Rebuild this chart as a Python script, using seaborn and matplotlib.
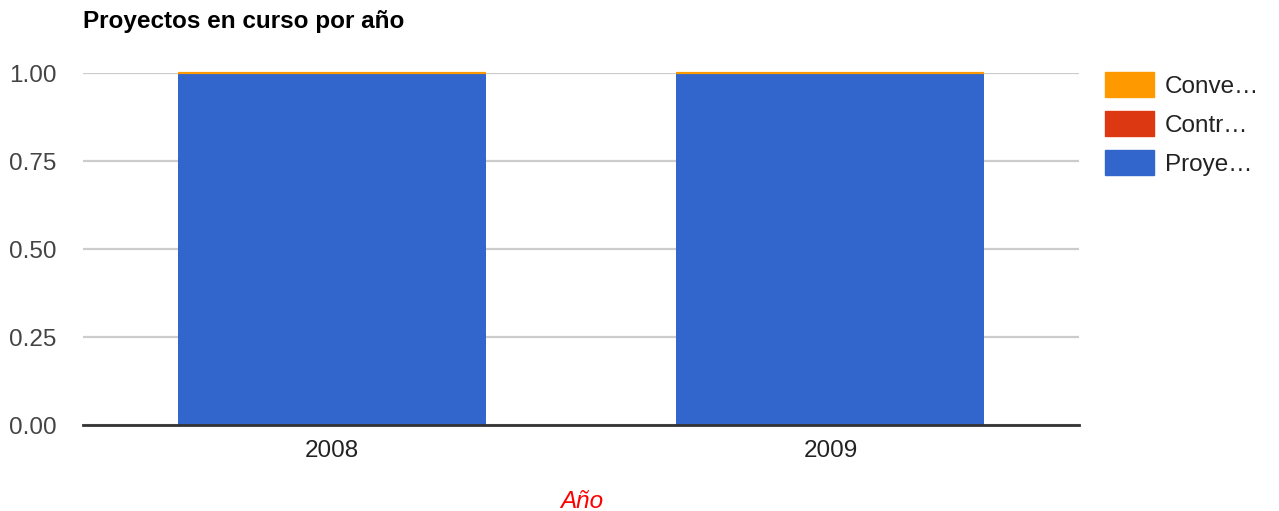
import matplotlib
matplotlib.use("Agg")
import matplotlib.pyplot as plt
import matplotlib.patches as mpatches
import seaborn as sns
import pandas as pd

years = ["2008", "2009"]
proyectos = [1.0, 1.0]
contratos = [0.0, 0.0]
convenios = [0.0, 0.0]
series_labels = ["Conve…", "Contr…", "Proye…"]
colors = {"Proye…": "#3366cc", "Contr…": "#dc3912", "Conve…": "#ff9900"}

sns.set_theme(style="white")
plt.rcParams["font.family"] = ["Liberation Sans", "DejaVu Sans"]

fig = plt.figure(figsize=(12.79, 5.11), dpi=100)
ax = fig.add_axes([0.065, 0.168, 0.779, 0.689])

df = pd.DataFrame({"year": years, "p": proyectos, "c": contratos, "v": convenios})
sns.barplot(data=df, x="year", y="p", color=colors["Proye…"], width=0.618,
            saturation=1, ax=ax, linewidth=0, zorder=3)
sns.barplot(data=df, x="year", y="c", color=colors["Contr…"], width=0.618,
            saturation=1, ax=ax, bottom=df["p"], linewidth=0, zorder=3)
sns.barplot(data=df, x="year", y="v", color=colors["Conve…"], width=0.618,
            saturation=1, ax=ax, bottom=df["p"] + df["c"], zorder=4,
            edgecolor=colors["Conve…"], linewidth=1.6)
# zero-height top segment shows as a thin line at the bar top
for bar in ax.containers[-1]:
    bar.set_clip_on(False)

ax.set_xlim(-0.5, 1.5)
ax.set_ylim(0, 1.0)
ax.set_yticks([0, 0.25, 0.5, 0.75, 1.0])
ax.set_yticklabels(["0.00", "0.25", "0.50", "0.75", "1.00"])
ax.yaxis.grid(True, color="#cccccc", linewidth=1.6, zorder=0)
ax.set_axisbelow(True)
for s in ["top", "right", "left"]:
    ax.spines[s].set_visible(False)
ax.spines["bottom"].set_color("#333333")
ax.spines["bottom"].set_linewidth(2)
ax.spines["bottom"].set_zorder(5)
ax.tick_params(axis="both", length=0, labelsize=17.5)
ax.tick_params(axis="y", pad=19, colors="#444444")
ax.tick_params(axis="x", pad=11, colors="#222222")
ax.set_ylabel("")
ax.set_xlabel("Año", color="red", style="italic", fontsize=17.5, labelpad=20)

fig.text(0.065, 0.957, "Proyectos en curso por año", fontsize=17.5,
         fontweight="bold", color="black", va="center")

handles = [mpatches.Patch(color=colors[l], label=l) for l in series_labels]
leg = ax.legend(handles=handles, loc="upper left", bbox_to_anchor=(1.016, 1.031),
                frameon=False, fontsize=17.5, handlelength=2.0, handleheight=1.2,
                handletextpad=0.45, labelspacing=0.55, borderaxespad=0)
for t in leg.get_texts():
    t.set_color("#222222")

fig.savefig("out.png", dpi=100)
